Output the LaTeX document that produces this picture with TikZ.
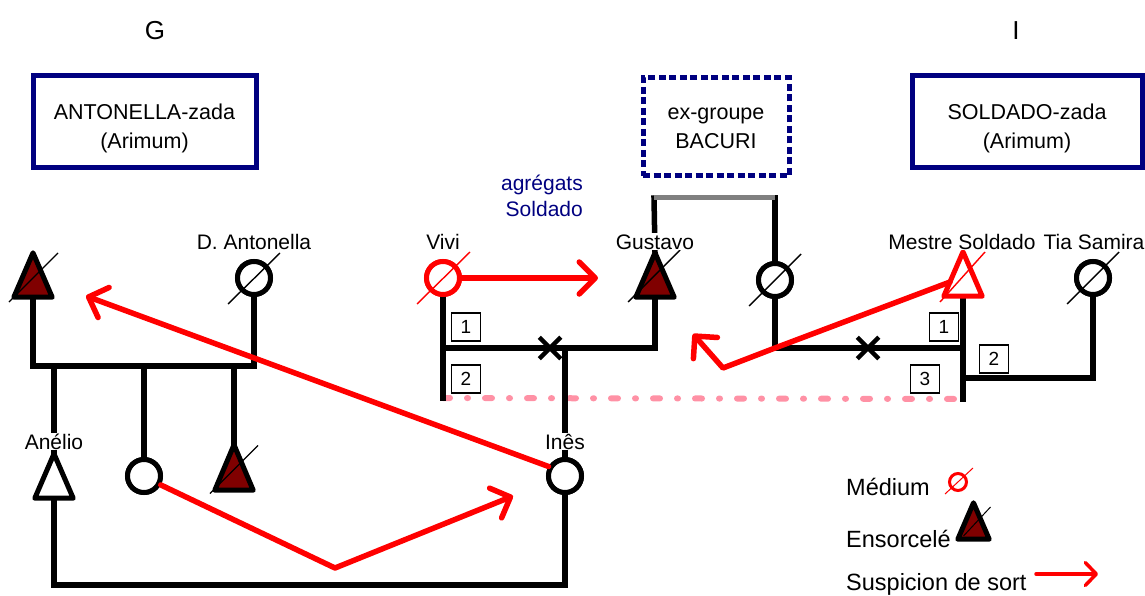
\documentclass[tikz,border=0pt]{standalone}
\usepackage{fontspec}
\setmainfont{Liberation Sans}
\usetikzlibrary{arrows.meta,shapes.misc}
\definecolor{navyb}{RGB}{0,0,128}
\definecolor{maroonf}{RGB}{128,0,0}
\definecolor{pinkd}{RGB}{255,145,165}
\definecolor{grayb}{RGB}{128,128,128}
\newcommand\drawtri[3]{\draw[line width=5pt, line join=round, fill=#2, draw=#3] (#1.north) -- (#1.south east) -- (#1.south west) -- cycle;}
\begin{document}
\begin{tikzpicture}[x=1pt,y=-1pt,
  fam/.style={line width=5.5pt, line cap=rect},
  lbl/.style={font=\fontsize{21}{24}\selectfont, inner sep=1pt, anchor=base},
  blbl/.style={font=\fontsize{21.5}{24}\selectfont, inner sep=1pt, anchor=base},
  wlbl/.style={lbl, fill=white},
  leg/.style={font=\fontsize{23.5}{28}\selectfont, inner sep=0pt, anchor=base west},
  circ/.style={circle, draw, line width=5pt, fill=white, minimum size=33pt, inner sep=0pt},
  tribox/.style={rectangle, minimum width=38pt, minimum height=44pt, inner sep=0pt},
  slash/.style={line width=1.4pt},
  numbox/.style={draw, line width=1.5pt, minimum width=29pt, minimum height=28pt, inner sep=0pt, font=\fontsize{19}{22}\selectfont, fill=white},
  sus/.style={red, line width=5.5pt, line cap=round, line join=round, -{Straight Barb[length=16pt,width=32pt,round]}},
  famname/.style={draw=navyb, line width=5pt, inner sep=0pt},
  xmark/.style={draw, cross out, line width=4.5pt, minimum size=17pt, inner sep=0pt}
]
\useasboundingbox (0,0) rectangle (1145,596);

% top letters
\node[font=\fontsize{26}{30}\selectfont, anchor=base, inner sep=0pt] (gG) at (155,40) {G};
\node[font=\fontsize{26}{30}\selectfont, anchor=base, inner sep=0pt] (gI) at (1016,40) {I};

% family boxes
\node[famname, minimum width=223pt, minimum height=92pt] (antz) at (144.5,122) {};
\node[blbl] (antz1) at (144.5,120) {ANTONELLA-zada};
\node[blbl] (antz2) at (144.5,149) {(Arimum)};
\node[famname, dash pattern=on 7pt off 3.5pt, minimum width=146pt, minimum height=98pt] (bac) at (716,127) {};
\node[blbl] (bac1) at (716,120) {ex-groupe};
\node[blbl] (bac2) at (716,149) {BACURI};
\node[famname, minimum width=230pt, minimum height=92pt] (solz) at (1027,122) {};
\node[blbl] (solz1) at (1027,120) {SOLDADO-zada};
\node[blbl] (solz2) at (1027,149) {(Arimum)};
\node[font=\fontsize{21}{26}\selectfont, text=navyb, align=right, anchor=north east, inner sep=0pt] (agr) at (583,175) {agrégats\\Soldado};

% coordinates
\coordinate (mL) at (144,366);
\coordinate (bot) at (300,585);
\coordinate (cj) at (550,348);
\coordinate (vdot) at (443,398);
\coordinate (mdot) at (963,399);
\coordinate (gA) at (654,198);
\coordinate (gB) at (775,198);
\coordinate (x2p) at (868,348);
\coordinate (j2) at (963,378);

% symbol nodes (positions)
\node[tribox] (lt) at (33,275) {};
\node[circ] (dant) at (254,278) {};
\node[tribox] (anel) at (54,476) {};
\node[circ] (mid) at (144,476) {};
\node[tribox, minimum height=45pt] (ens) at (234,467.5) {};
\node[circ] (ines) at (565,476) {};
\node[circ, draw=red] (vivi) at (443,278) {};
\node[tribox] (gus) at (655,275) {};
\node[circ] (c3) at (775,280) {};
\node[tribox] (ms) at (963,274) {};
\node[circ] (tia) at (1093,278) {};

% pink dotted line
\draw[pinkd, line width=6pt, line cap=round, dash pattern=on 7pt off 17pt on 1pt off 17pt] (vdot) -- (mdot);

% left family lines
\draw[fam] (lt.south) |- (mL) -| (dant.south);
\draw[fam] (mL) -- (mid.north);
\draw[fam] (anel.north |- mL) -- (anel.north);
\draw[fam] (ens.north |- mL) -- (ens.north);
\draw[fam] (anel.south) |- (bot) -| (ines.south);

% centre family lines
\draw[fam] (vivi.south) -- (vdot);
\draw[fam] (vivi.south |- cj) -| (gus.south);
\draw[fam] (ines.north |- cj) -- (ines.north);
\draw[fam] (gA) -- (gus.north);
\draw[fam] (gB) -- (c3.north);
\draw[grayb, line width=5pt] (gA) -- (gB);

% right family lines
\draw[fam] (c3.south) |- (x2p) -- (ms.south |- x2p);
\draw[fam] (ms.south) -- (mdot);
\draw[fam] (tia.south) |- (j2);

% crosses
\node[xmark] (x1) at (cj) {};
\node[xmark] (x2) at (x2p) {};

% number boxes
\node[numbox] (n1a) at (466,327) {1};
\node[numbox] (n2a) at (466,379) {2};
\node[numbox] (n1b) at (944,327) {1};
\node[numbox] (n2b) at (994,359) {2};
\node[numbox] (n3b) at (925,379) {3};

% redraw symbols on top
\node[circ] at (dant) {};
\node[circ] at (mid) {};
\node[circ] at (ines) {};
\node[circ, draw=red] at (vivi) {};
\node[circ] at (c3) {};
\node[circ] at (tia) {};
\drawtri{lt}{maroonf}{black}
\drawtri{anel}{white}{black}
\drawtri{ens}{maroonf}{black}
\drawtri{gus}{maroonf}{black}
\drawtri{ms}{white}{red}

% slashes
\draw[slash] ([shift={(-24,27)}]lt.center) -- ([shift={(25,-22)}]lt.center);
\draw[slash] ([shift={(-26,26)}]dant.center) -- ([shift={(26,-25)}]dant.center);
\draw[slash] ([shift={(-24,26)}]ens.center) -- ([shift={(24,-22)}]ens.center);
\draw[slash, red] ([shift={(-26,26)}]vivi.center) -- ([shift={(27,-26)}]vivi.center);
\draw[slash] ([shift={(-27,27)}]gus.center) -- ([shift={(25,-25)}]gus.center);
\draw[slash] ([shift={(-26,26)}]c3.center) -- ([shift={(26,-26)}]c3.center);
\draw[slash, red] ([shift={(-23,28)}]ms.center) -- ([shift={(22,-22)}]ms.center);
\draw[slash] ([shift={(-26,26)}]tia.center) -- ([shift={(26,-26)}]tia.center);

% person labels
\node[wlbl] (ldant) at (254,249) {D. Antonella};
\node[wlbl] (lvivi) at (443,249) {Vivi};
\node[wlbl] (lgus) at (655,249) {Gustavo};
\node[wlbl] (lms) at (962,249) {Mestre Soldado};
\node[lbl] (ltia) at (1094,249) {Tia Samira};
\node[wlbl] (lanel) at (54,449) {Anélio};
\node[wlbl] (lines) at (565,449) {Inês};

% suspicion arrows
\coordinate (a1) at (598,278);
\coordinate (a2) at (86,296);
\coordinate (k1) at (335,568);
\coordinate (a3) at (513,496);
\coordinate (k2) at (723,368);
\coordinate (a4) at (693,334);
\draw[sus] (vivi.east) -- (a1);
\draw[sus] (ines.150) -- (a2);
\draw[sus] (mid.-28) -- (k1) -- (a3);
\draw[sus] ([shift={(-13,8)}]ms.center) -- (c3.south |- x2p) -- (k2) -- (a4);

% legend
\node[leg] (lgm) at (846,495) {Médium};
\node[circ, draw=red, line width=3pt, minimum size=17pt] (lgc) at (958,482) {};
\draw[slash, red, line width=1pt] ([shift={(-13,12)}]lgc.center) -- ([shift={(15,-14)}]lgc.center);
\node[leg] (lge) at (846,547) {Ensorcelé};
\node[tribox, minimum width=31pt, minimum height=36pt] (lgt) at (973.5,521) {};
\drawtri{lgt}{maroonf}{black}
\draw[slash, line width=1pt] ([shift={(-10,15)}]lgt.center) -- ([shift={(17,-14)}]lgt.center);
\node[leg] (lgs) at (846,590) {Suspicion de sort};
\coordinate (ls1) at (1036,574);
\coordinate (ls2) at (1098,574);
\draw[sus, line width=3.5pt, -{Straight Barb[length=11pt,width=23pt,round]}] (ls1) -- (ls2);
\end{tikzpicture}
\end{document}
